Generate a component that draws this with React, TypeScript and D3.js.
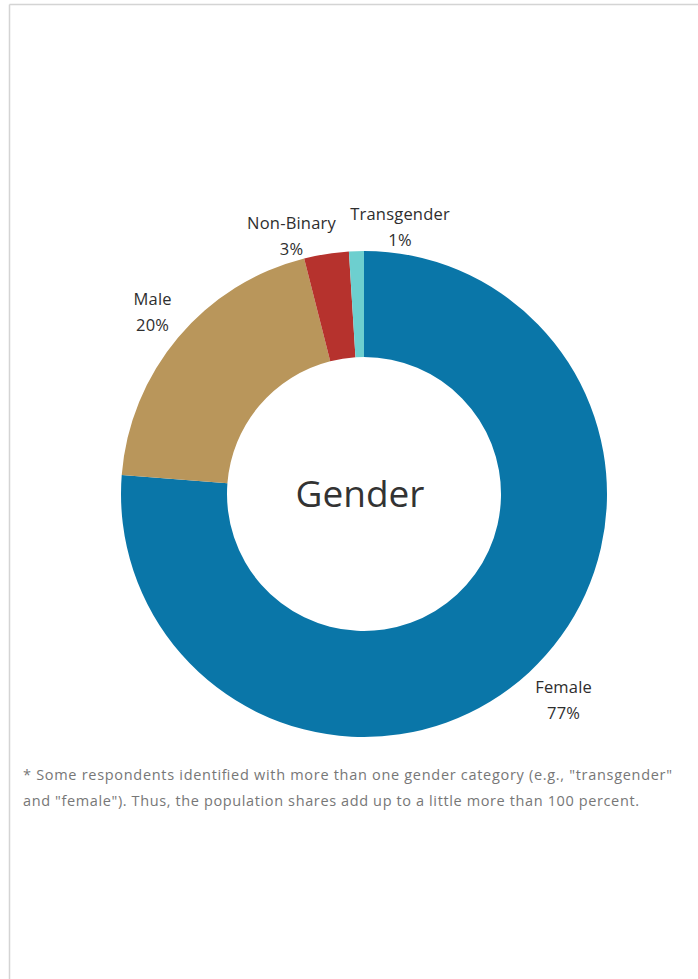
import React from "react";
import * as d3 from "d3";

const categories = ["Female", "Male", "Non-Binary", "Transgender"];
const values = [77, 20, 3, 1];
const labels = ["77%", "20%", "3%", "1%"];
const colors = ["#0a76a8", "#b9965b", "#b6322d", "#6dcfcf"];

const W = 698;
const H = 979;
const cx = 364;
const cy = 494;
const outerR = 243;
const innerR = 137;

// label placement: [radius, dx, dy] relative to slice mid-angle
const labelLayout: [number, number, number][] = [
  [291, 2, -12],
  [275, -1, -9],
  [255, -33, -10],
  [255, 44, -16],
];

export default function App() {
  const data = categories.map((c, i) => ({ c, v: values[i], l: labels[i], col: colors[i] }));
  const pie = d3
    .pie<any>()
    .sort(null)
    .value((d) => d.v)
    .startAngle(0)
    .endAngle(2 * Math.PI);
  const arcs = pie(data);
  const arc = d3.arc<any>().innerRadius(innerR).outerRadius(outerR);
  const font = "'Open Sans', 'Noto Sans', sans-serif";

  return (
    <svg
      width={W}
      height={H}
      style={{ position: "absolute", left: 0, top: 0, background: "#fff" }}
    >
      <line x1={9.5} y1={4.5} x2={W} y2={4.5} stroke="#d4d4d4" strokeWidth={1.5} />
      <line x1={9.5} y1={4.5} x2={9.5} y2={H} stroke="#d4d4d4" strokeWidth={1.5} />
      <g transform={`translate(${cx},${cy})`}>
        {arcs.map((a, i) => (
          <path key={i} d={arc(a) as string} fill={a.data.col} />
        ))}
        {arcs.map((a, i) => {
          const mid = (a.startAngle + a.endAngle) / 2;
          const [r, dx, dy] = labelLayout[i];
          const x = r * Math.sin(mid) + dx;
          const y = -r * Math.cos(mid) + dy;
          return (
            <text
              key={"l" + i}
              x={x}
              y={y}
              textAnchor="middle"
              fontFamily={font}
              fontSize={16.5}
              letterSpacing={0.2}
              fill="#2e2e2e"
            >
              <tspan x={x} dy={-3}>{a.data.c}</tspan>
              <tspan x={x} dy={26}>{a.data.l}</tspan>
            </text>
          );
        })}
        <text
          x={-4}
          y={13}
          textAnchor="middle"
          fontFamily={font}
          fontSize={37}
          fill="#333"
        >
          Gender
        </text>
      </g>
      <text
        x={23}
        y={780}
        fontFamily={font}
        fontSize={14.5}
        fill="#777"
        textLength={649}
        lengthAdjust="spacing"
      >
        * Some respondents identified with more than one gender category (e.g., "transgender"
      </text>
      <text
        x={23}
        y={806}
        fontFamily={font}
        fontSize={14.5}
        fill="#777"
        textLength={616}
        lengthAdjust="spacing"
      >
        and "female").  Thus, the population shares add up to a little more than 100 percent.
      </text>
    </svg>
  );
}
